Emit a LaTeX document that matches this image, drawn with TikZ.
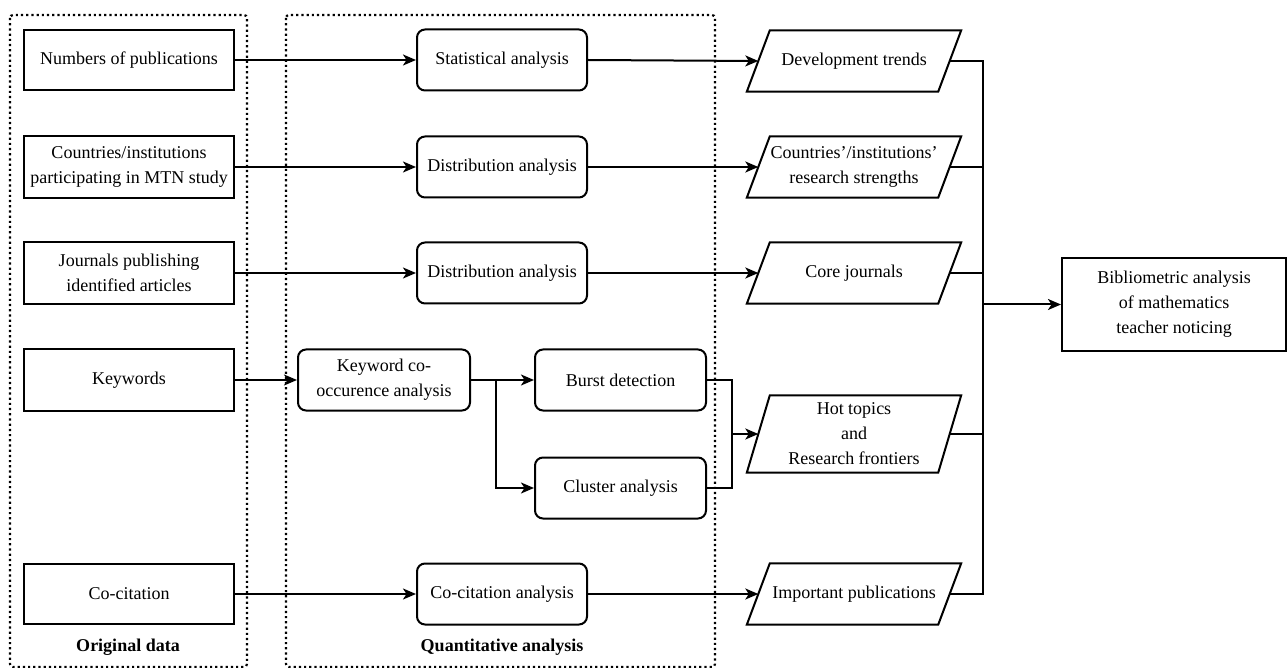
\documentclass[tikz,border=0pt]{standalone}
\usepackage{fontspec}
\setmainfont{Liberation Serif}
\usetikzlibrary{arrows.meta}
\begin{document}
\begin{tikzpicture}[x=1pt,y=-1pt,
  every node/.style={font=\fontsize{18}{25}\selectfont, align=center, inner sep=2pt},
  databox/.style={draw, line width=2pt, minimum width=210, minimum height=60},
  anabox/.style={draw, line width=2pt, rounded corners=8pt, minimum width=170, minimum height=61},
  outbox/.style={minimum width=191, minimum height=61, inner sep=0pt},
  para/.style={line width=2pt, line join=miter},
  finalbox/.style={draw, line width=2pt, minimum width=224, minimum height=93},
  conn/.style={line width=2pt},
  arr/.style={line width=2pt, -{Stealth[length=13pt,width=11pt,inset=3.5pt]}},
  region/.style={line width=2.2pt, dash pattern=on 2.2pt off 3pt, rounded corners=3pt},
  lbl/.style={font=\fontsize{18}{25}\selectfont\bfseries}
]
\useasboundingbox (0,0) rectangle (1288,668);

% regions
\draw[region] (10,15) rectangle (247,667);
\draw[region] (286,15) rectangle (715,667);
\node[lbl] (lorig) at (128,647) {Original data};
\node[lbl] (lquant) at (502,647) {Quantitative analysis};

% original data
\node[databox] (d1) at (129,60) {Numbers of publications};
\node[databox, minimum height=62] (d2) at (129,167) {Countries/institutions\\participating in MTN study};
\node[databox, minimum height=62] (d3) at (129,273) {Journals publishing\\identified articles};
\node[databox, minimum height=62] (d4) at (129,380) {Keywords};
\node[databox] (d5) at (129,594) {Co-citation};

% analyses
\node[anabox] (a1) at (502,60) {Statistical analysis};
\node[anabox] (a2) at (502,167) {Distribution analysis};
\node[anabox] (a3) at (502,273) {Distribution analysis};
\node[anabox, minimum width=172] (kw) at (384,380) {Keyword co-\\occurence analysis};
\node[anabox, minimum width=171] (bd) at (620.5,380) {Burst detection};
\node[anabox, minimum width=171] (ca) at (620.5,488) {Cluster analysis};
\node[anabox] (a5) at (502,594) {Co-citation analysis};

% outputs (parallelograms)
\node[outbox] (o1) at (854,61) {Development trends};
\node[outbox] (o2) at (854,167) {Countries'/institutions'\\research strengths};
\node[outbox] (o3) at (854,273) {Core journals};
\node[outbox, minimum height=77] (o4) at (854,434) {Hot topics\\and\\Research frontiers};
\node[outbox] (o5) at (854,594) {Important publications};
\foreach \n in {o1,o2,o3,o4,o5}{
  \draw[para] ([xshift=-11.5pt]\n.south west) -- ([xshift=11.5pt]\n.north west)
    -- ([xshift=11.5pt]\n.north east) -- ([xshift=-11.5pt]\n.south east) -- cycle;
}

\node[finalbox] (fin) at (1174,304.5) {Bibliometric analysis\\of mathematics\\teacher noticing};

% connectors
\draw[arr] (d1.east) -- (a1.west);
\draw[arr] (d2.east) -- (a2.west);
\draw[arr] (d3.east) -- (a3.west);
\draw[arr] (d4.east) -- (kw.west);
\draw[arr] (d5.east) -- (a5.west);

\draw[arr] (a1.east) -- (o1.west);
\draw[arr] (a2.east) -- (o2.west);
\draw[arr] (a3.east) -- (o3.west);
\draw[arr] (a5.east) -- (o5.west);

\coordinate (kb) at (496,380);
\draw[arr] (kw.east) -- (bd.west);
\draw[arr] (kb) |- (ca.west);

\coordinate (bj) at (732,380);
\coordinate (cj) at (732,488);
\coordinate (hj) at (732,434);
\draw[conn] (bd.east) -- (bj) -- (cj) -- (ca.east);
\draw[arr] (hj) -- (o4.west);

\coordinate (j1) at (983,61);
\coordinate (j5) at (983,594);
\coordinate (jf) at (983,304.5);
\draw[conn] (o1.east) -- (j1) -- (j5) -- (o5.east);
\draw[conn] (o2.east) -- (o2.east -| j1);
\draw[conn] (o3.east) -- (o3.east -| j1);
\draw[conn] (o4.east) -- (o4.east -| j1);
\draw[arr] (jf) -- (fin.west);
\end{tikzpicture}
\end{document}
